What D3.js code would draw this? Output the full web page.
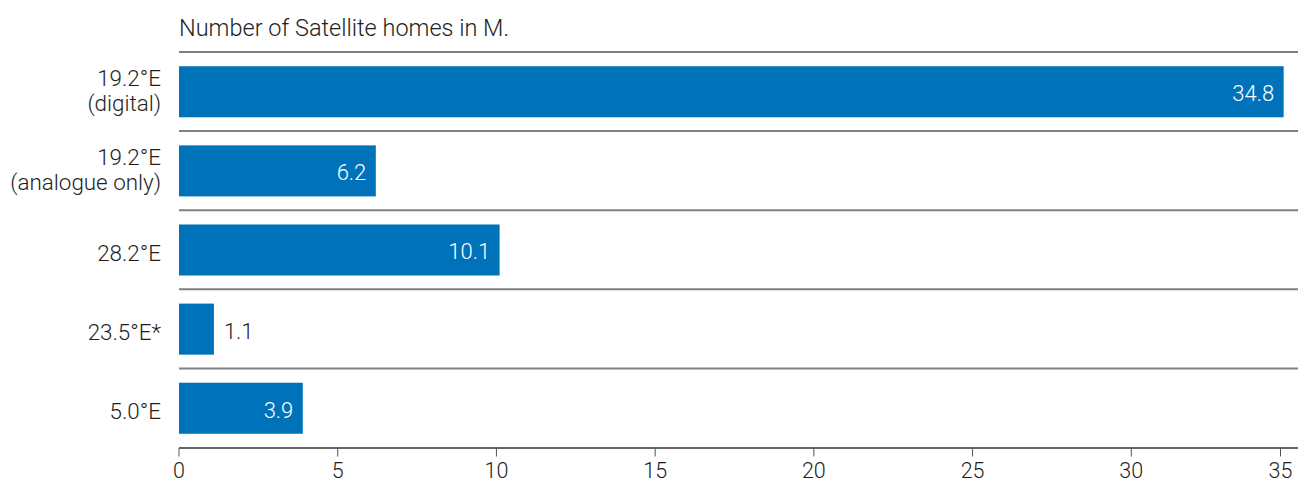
<!DOCTYPE html>
<html>
<head>
<meta charset="utf-8">
<script src="https://cdn.jsdelivr.net/npm/d3@7"></script>
<style>
  html, body { margin: 0; padding: 0; background: #fff; }
  svg { display: block; font-family: Roboto, "Liberation Sans", sans-serif; font-weight: 300; }
</style>
</head>
<body>
<svg id="chart" width="1298" height="485"></svg>
<script>
const categories = [["19.2°E", "(digital)"], ["19.2°E", "(analogue only)"], ["28.2°E"], ["23.5°E*"], ["5.0°E"]];
const values = [34.8, 6.2, 10.1, 1.1, 3.9];
const tickValues = [0, 5, 10, 15, 20, 25, 30, 35];
const title = "Number of Satellite homes in M.";

const W = 1298, H = 485;
const margin = { left: 179, right: 8, top: 52, bottom: 37 };
const FONT = "Roboto, 'Liberation Sans', sans-serif";
const svg = d3.select("#chart");

const x = d3.scaleLinear().domain([0, 35]).range([margin.left, W - margin.right]);
const keys = categories.map((c, i) => i);
const y = d3.scaleBand().domain(keys).range([margin.top, H - margin.bottom]).paddingInner(0.355).paddingOuter(0.18);

// title
svg.append("text").attr("x", 179).attr("y", 35.7).attr("font-size", 23.5).attr("fill", "#1e1e1e").text(title);

// separators
const step = y.step();
const seps = d3.range(categories.length).map(i => margin.top + i * step);
svg.selectAll("line.sep").data(seps).join("line").attr("class", "sep")
  .attr("x1", margin.left).attr("x2", W).attr("y1", d => d).attr("y2", d => d)
  .attr("stroke", "#808080").attr("stroke-width", 2);

// bars
svg.selectAll("rect.bar").data(values).join("rect").attr("class", "bar")
  .attr("x", x(0)).attr("y", (d, i) => y(i)).attr("width", d => x(d) - x(0)).attr("height", y.bandwidth())
  .attr("fill", "#0072BA");

// value labels
const inside = d => x(d) - x(0) > 60;
svg.selectAll("text.val").data(values).join("text").attr("class", "val")
  .attr("x", d => (inside(d) ? x(d) - 9.5 : x(d) + 10))
  .attr("y", (d, i) => y(i) + y.bandwidth() / 2)
  .attr("dy", "0.43em")
  .attr("text-anchor", d => (inside(d) ? "end" : "start"))
  .attr("fill", d => (inside(d) ? "#fff" : "#1e1e1e"))
  .attr("font-size", 22)
  .text(d => d.toFixed(1));

// category labels
const cat = svg.selectAll("text.cat").data(categories).join("text").attr("class", "cat")
  .attr("text-anchor", "end").attr("font-size", 22.4).attr("fill", "#1e1e1e")
  .attr("y", (d, i) => y(i) + y.bandwidth() / 2);
cat.each(function(d) {
  const t = d3.select(this);
  const n = d.length;
  d.forEach((line, j) => {
    t.append("tspan").attr("x", 161).attr("dy", j === 0 ? (n > 1 ? "-0.25em" : "0.5em") : "1.12em").text(line);
  });
});

// x axis
const axis = svg.append("g").attr("transform", `translate(0,${H - margin.bottom})`)
  .call(d3.axisBottom(x).tickValues(tickValues).tickSize(8.5).tickSizeOuter(0).tickPadding(6));
axis.select(".domain").attr("stroke", "#333").attr("stroke-width", 1.3).attr("d", `M${margin.left},0H${W}`);
axis.selectAll(".tick").attr("transform", d => `translate(${Math.min(x(d), 1280.5)},0)`);
axis.selectAll(".tick line").attr("stroke", "#555");
axis.selectAll(".tick text").attr("font-size", 21.5).attr("fill", "#1e1e1e")
  .attr("font-family", FONT).attr("font-weight", 300);
</script>
</body>
</html>
